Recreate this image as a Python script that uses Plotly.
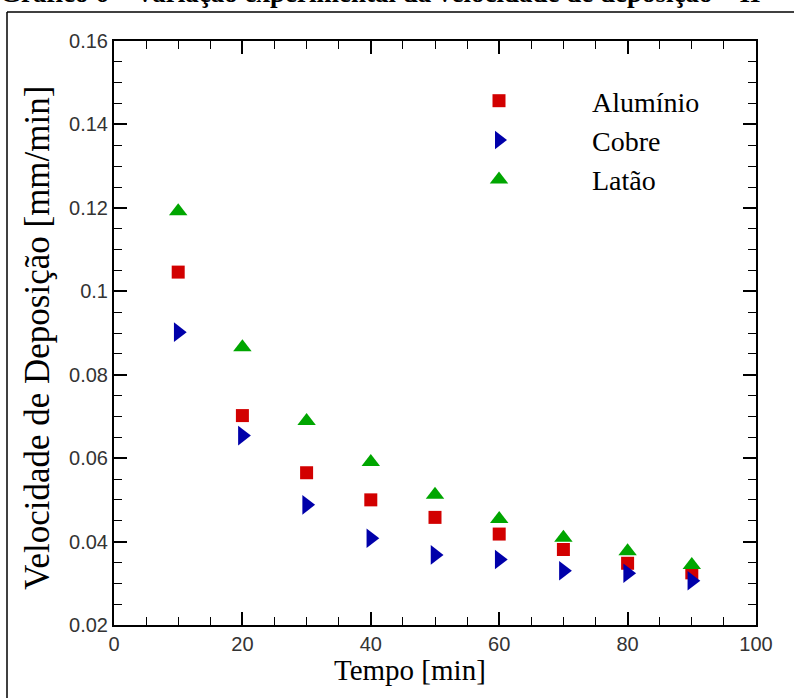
import plotly.graph_objects as go

tempo = [10, 20, 30, 40, 50, 60, 70, 80, 90]
aluminio = [0.1046, 0.0702, 0.0565, 0.0500, 0.0458, 0.0418, 0.0381, 0.0348, 0.0325]
cobre = [0.0902, 0.0654, 0.0488, 0.0408, 0.0368, 0.0357, 0.0330, 0.0324, 0.0306]
latao = [0.1192, 0.0866, 0.0689, 0.0591, 0.0512, 0.0454, 0.0409, 0.0377, 0.0344]

x_ticks = [0, 20, 40, 60, 80, 100]
x_ticktext = ["0", "20", "40", "60", "80", "100"]
y_ticks = [0.02, 0.04, 0.06, 0.08, 0.10, 0.12, 0.14, 0.16]
y_ticktext = ["0.02", "0.04", "0.06", "0.08", "0.1", "0.12", "0.14", "0.16"]

series = [
    ("Alumínio", aluminio, "square", 13, "#d20000"),
    ("Cobre", cobre, "triangle-right", 17, "#0000aa"),
    ("Latão", latao, "triangle-up", 16, "#00a600"),
]

fig = go.Figure()
for name, vals, sym, size, col in series:
    fig.add_trace(go.Scatter(
        x=tempo, y=vals, mode="markers", name=name,
        marker=dict(symbol=sym, size=size, color=col, line=dict(width=0)),
    ))

W, H = 794, 698
L, R, T, B = 114, 38, 41, 73
pw, ph = W - L - R, H - T - B

def px2x(px):
    return (px - L) / pw

def py2y(py):
    return 1 - (py - T) / ph

tick_font = dict(family="Liberation Sans, Arial, sans-serif", size=20, color="#333333")
serif = "Liberation Serif, Times New Roman, serif"

fig.update_layout(
    width=W, height=H,
    margin=dict(l=L, r=R, t=T, b=B),
    paper_bgcolor="white", plot_bgcolor="white",
    showlegend=True,
    legend=dict(
        x=px2x(406), y=py2y(76), xanchor="left", yanchor="top",
        font=dict(family=serif, size=28, color="black"),
        itemwidth=176, bgcolor="rgba(0,0,0,0)", tracegroupgap=0,
    ),
    xaxis=dict(
        range=[0, 100], tickvals=x_ticks, ticktext=x_ticktext,
        ticks="inside", ticklen=13, tickwidth=2, tickcolor="black",
        showline=True, linewidth=2, linecolor="black", mirror="allticks",
        showgrid=False, zeroline=False, tickfont=tick_font,
        minor=dict(dtick=5, ticks="inside", ticklen=8, tickwidth=1, tickcolor="black", showgrid=False),
    ),
    yaxis=dict(
        range=[0.02, 0.16], tickvals=y_ticks, ticktext=y_ticktext,
        ticks="inside", ticklen=13, tickwidth=2, tickcolor="black",
        showline=True, linewidth=2, linecolor="black", mirror="allticks",
        showgrid=False, zeroline=False, tickfont=tick_font,
        minor=dict(dtick=0.005, ticks="inside", ticklen=8, tickwidth=1, tickcolor="black", showgrid=False),
    ),
)

# axis titles as annotations positioned like the reference
fig.add_annotation(
    text="Tempo [min]", xref="paper", yref="paper",
    x=px2x(410), y=py2y(670), xanchor="center", yanchor="middle",
    showarrow=False,
    font=dict(family=serif, size=29, color="black"),
)
fig.add_annotation(
    text="Velocidade de Deposição [mm/min]", xref="paper", yref="paper",
    x=px2x(37), y=py2y(338), xanchor="center", yanchor="middle", textangle=-90,
    showarrow=False,
    font=dict(family=serif, size=35, color="black"),
)

# partially visible caption at the top
fig.add_annotation(
    text="<b>Gráfico 6 – Variação experimental da velocidade de deposição – II</b>",
    xref="paper", yref="paper", x=px2x(-2), y=py2y(10), xanchor="left", yanchor="bottom",
    showarrow=False,
    font=dict(family=serif, size=27, color="black"),
)

# outer frame lines
fig.add_shape(type="line", xref="paper", yref="paper",
              x0=px2x(7), x1=px2x(800), y0=py2y(12), y1=py2y(12),
              line=dict(color="black", width=1.5))
fig.add_shape(type="line", xref="paper", yref="paper",
              x0=px2x(7), x1=px2x(7), y0=py2y(12), y1=py2y(710),
              line=dict(color="black", width=1.5))

fig.write_html("out.html")
